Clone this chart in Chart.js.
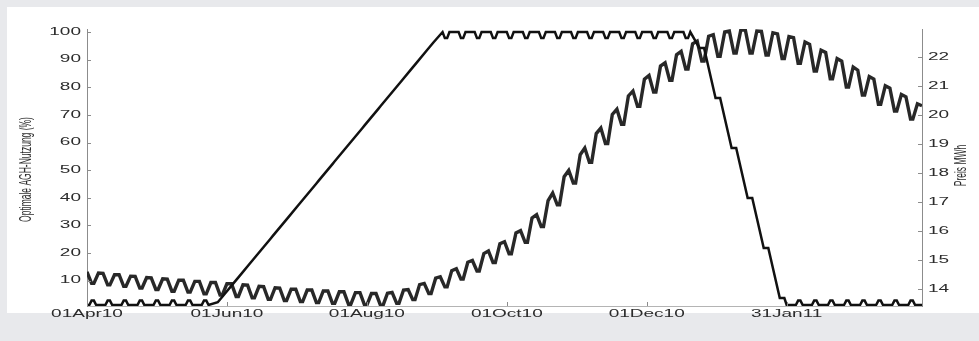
<!DOCTYPE html>
<html>
<head>
<meta charset="utf-8">
<script src="https://cdn.jsdelivr.net/npm/chart.js@4.4.1/dist/chart.umd.min.js"></script>
<style>
  html, body { margin: 0; padding: 0; background: #e8e9ec; }
  #frame { position: relative; width: 979px; height: 341px; overflow: hidden; }
  #panel { position: absolute; left: 7px; top: 7px; right: 0; height: 306px; background: #ffffff; }
  #wrap { position: absolute; left: 0; top: 0; width: 979px; height: 341px; }
</style>
</head>
<body>
<div id="frame">
  <div id="panel"></div>
  <div id="wrap"><canvas id="c"></canvas></div>
</div>
<script>
// Day 0 = Thu 01 Apr 2010, day 364 = Thu 31 Mar 2011.
// Week k: Thu = day 7k, Fri = 7k+1, Sat = 7k+2, Sun = 7k+3, Mon = 7k+4, Tue = 7k+5.
const tickDays = [0, 61, 122, 183, 244, 305];
const tickLabels = ['01Apr10', '01Jun10', '01Aug10', '01Oct10', '01Dec10', '31Jan11'];
const leftTicks = [10, 20, 30, 40, 50, 60, 70, 80, 90, 100];
const rightTicks = [14, 15, 16, 17, 18, 19, 20, 21, 22];

// Price (right axis): weekday level on the Thursday before and the Tuesday after
// each weekend, and the weekend low
const priceThu = [
  14.59, 14.54, 14.49, 14.43, 14.38, 14.34, 14.30, 14.26, 14.22, 14.18,
  14.13, 14.08, 14.03, 13.99, 13.96, 13.93, 13.90, 13.87, 13.84, 13.88,
  13.98, 14.19, 14.42, 14.70, 14.98, 15.31, 15.63, 16.01, 16.56, 17.31,
  18.09, 18.86, 19.55, 20.20, 20.83, 21.37, 21.80, 22.20, 22.55, 22.77,
  22.90, 22.93, 22.89, 22.80, 22.67, 22.44, 22.16, 21.86, 21.55, 21.24,
  20.93, 20.63
];
const priceWeekend = [
  14.19, 14.14, 14.09, 14.03, 13.98, 13.92, 13.89, 13.83, 13.79, 13.74,
  13.69, 13.64, 13.60, 13.56, 13.53, 13.50, 13.47, 13.44, 13.42, 13.50,
  13.63, 13.84, 14.07, 14.34, 14.62, 14.91, 15.21, 15.61, 16.15, 16.90,
  17.65, 18.37, 19.02, 19.68, 20.30, 20.79, 21.20, 21.59, 21.86, 22.03,
  22.14, 22.14, 22.07, 21.95, 21.79, 21.52, 21.25, 20.97, 20.69, 20.37,
  20.14, 19.86
];
const priceTue = [
  14.55, 14.49, 14.44, 14.39, 14.35, 14.30, 14.26, 14.22, 14.18, 14.14,
  14.09, 14.04, 13.99, 13.96, 13.93, 13.90, 13.87, 13.84, 13.85, 13.96,
  14.15, 14.37, 14.63, 14.92, 15.22, 15.56, 15.93, 16.45, 17.05, 17.87,
  18.63, 19.36, 20.02, 20.66, 21.24, 21.69, 22.08, 22.46, 22.72, 22.87,
  22.93, 22.90, 22.84, 22.71, 22.52, 22.24, 21.95, 21.66, 21.33, 21.01,
  20.71, 20.39
];
const priceEnd = 20.32;

// Optimal usage in % (left axis), Fri / Sat / Sun / Mon of each week
const usageStart = 1.2;
const usageFri = [
  1.2, 1.2, 1.2, 1.2, 1.2, 1.2, 1.2, 1.2,
  2.2, 9.2, 16.2, 23.2, 30.2, 37.2, 44.2, 51.2, 58.2, 65.2, 72.2, 79.2, 86.2, 93.2,
  100, 100, 100, 100, 100, 100, 100, 100, 100, 100, 100, 100, 100, 100, 100, 100,
  94.2, 76.1, 58.0, 39.9, 21.8, 3.7,
  1.2, 1.2, 1.2, 1.2, 1.2, 1.2, 1.2, 1.2
];
const usageSat = [
  2.8, 2.8, 2.8, 2.8, 2.8, 2.8, 2.8, 2.8,
  3.2, 10.2, 17.2, 24.2, 31.2, 38.2, 45.2, 52.2, 59.2, 66.2, 73.2, 80.2, 87.2, 94.2,
  97.8, 97.8, 97.8, 97.8, 97.8, 97.8, 97.8, 97.8, 97.8, 97.8, 97.8, 97.8, 97.8, 97.8, 97.8, 97.8,
  94.2, 76.1, 58.0, 39.9, 21.8, 3.7,
  2.8, 2.8, 2.8, 2.8, 2.8, 2.8, 2.8, 2.8
];
const usageSun = [
  2.8, 2.8, 2.8, 2.8, 2.8, 2.8, 2.8, 2.8,
  4.2, 11.2, 18.2, 25.2, 32.2, 39.2, 46.2, 53.2, 60.2, 67.2, 74.2, 81.2, 88.2, 95.2,
  97.8, 97.8, 97.8, 97.8, 97.8, 97.8, 97.8, 97.8, 97.8, 97.8, 97.8, 97.8, 97.8, 97.8, 97.8, 97.8,
  94.2, 76.1, 58.0, 39.9, 21.8, 3.7,
  2.8, 2.8, 2.8, 2.8, 2.8, 2.8, 2.8, 2.8
];
const usageMon = [
  1.2, 1.2, 1.2, 1.2, 1.2, 1.2, 1.2, 1.2,
  5.2, 12.2, 19.2, 26.2, 33.2, 40.2, 47.2, 54.2, 61.2, 68.2, 75.2, 82.2, 89.2, 96.2,
  100, 100, 100, 100, 100, 100, 100, 100, 100, 100, 100, 100, 100, 100, 100, 100,
  90.6, 72.5, 54.4, 36.3, 18.2, 1.2,
  1.2, 1.2, 1.2, 1.2, 1.2, 1.2, 1.2, 1.2
];
const usageEnd = 1.2;

const leftTitle = 'Optimale AGH-Nutzung (%)';
const rightTitle = 'Preis MWh';

function pricePoints() {
  const pts = [];
  for (let k = 0; k < priceThu.length; k++) {
    const thu = 7 * k;
    pts.push({ x: thu, y: priceThu[k] });
    pts.push({ x: thu + 2, y: priceWeekend[k] });
    pts.push({ x: thu + 3, y: priceWeekend[k] });
    pts.push({ x: thu + 5, y: priceTue[k] });
  }
  pts.push({ x: 364, y: priceEnd });
  return pts;
}

function usagePoints() {
  const pts = [{ x: 0, y: usageStart }];
  for (let k = 0; k < usageFri.length; k++) {
    const fri = 7 * k + 1;
    pts.push({ x: fri, y: usageFri[k] });
    pts.push({ x: fri + 1, y: usageSat[k] });
    pts.push({ x: fri + 2, y: usageSun[k] });
    pts.push({ x: fri + 3, y: usageMon[k] });
  }
  pts.push({ x: 364, y: usageEnd });
  return pts;
}

const TEXT = '#2c2c2c';
const FONT = 'Liberation Sans, Arial, sans-serif';
const STRETCH = 1.9; // wide lettering of the figure

// Draw every text run horizontally widened around its anchor point
const wideText = {
  id: 'wideText',
  beforeInit(chart) {
    const ctx = chart.ctx;
    const base = CanvasRenderingContext2D.prototype.fillText;
    ctx.fillText = function (text, x, y, maxWidth) {
      const m = this.getTransform();
      const p = m.transformPoint(new DOMPoint(x, y));
      this.save();
      this.setTransform(new DOMMatrix().translate(p.x, p.y).scale(STRETCH, 1).translate(-p.x, -p.y).multiply(m));
      if (maxWidth === undefined) base.call(this, text, x, y);
      else base.call(this, text, x, y, maxWidth);
      this.restore();
    };
  }
};

// Short tick marks pointing into the plot area, plus the two axis titles
const axisDecor = {
  id: 'axisDecor',
  afterDraw(chart) {
    const { ctx, chartArea: a, scales } = chart;
    ctx.save();
    ctx.strokeStyle = '#8c8c8c';
    ctx.lineWidth = 1;
    ctx.beginPath();
    leftTicks.forEach(v => {
      const y = Math.round(scales.y.getPixelForValue(v)) + 0.5;
      ctx.moveTo(a.left, y); ctx.lineTo(a.left + 4, y);
    });
    rightTicks.forEach(v => {
      const y = Math.round(scales.y2.getPixelForValue(v)) + 0.5;
      ctx.moveTo(a.right, y); ctx.lineTo(a.right - 4, y);
    });
    tickDays.forEach(v => {
      const x = Math.round(scales.x.getPixelForValue(v)) + 0.5;
      ctx.moveTo(x, a.bottom); ctx.lineTo(x, a.bottom - 4);
    });
    ctx.stroke();

    ctx.fillStyle = TEXT;
    ctx.font = '8.5px ' + FONT;
    ctx.textAlign = 'center';
    ctx.textBaseline = 'middle';
    const midY = (a.top + a.bottom) / 2;
    ctx.save();
    ctx.translate(a.left - 60, midY + 2);
    ctx.rotate(-Math.PI / 2);
    ctx.fillText(leftTitle, 0, 0);
    ctx.restore();
    ctx.save();
    ctx.translate(a.right + 40, midY - 2);
    ctx.rotate(-Math.PI / 2);
    ctx.fillText(rightTitle, 0, 0);
    ctx.restore();
    ctx.restore();
  }
};

const tickFont = { family: FONT, size: 10 };

new Chart(document.getElementById('c'), {
  type: 'line',
  data: {
    datasets: [
      {
        label: rightTitle,
        data: pricePoints(),
        yAxisID: 'y2',
        borderColor: '#282828',
        borderWidth: 3.4,
        pointRadius: 0,
        tension: 0,
        order: 2
      },
      {
        label: leftTitle,
        data: usagePoints(),
        yAxisID: 'y',
        borderColor: '#111111',
        borderWidth: 2.5,
        pointRadius: 0,
        tension: 0,
        order: 1
      }
    ]
  },
  options: {
    animation: false,
    responsive: true,
    maintainAspectRatio: false,
    layout: { padding: { top: 29, left: 0, right: 0, bottom: 0 } },
    plugins: { legend: { display: false }, tooltip: { enabled: false } },
    scales: {
      x: {
        type: 'linear',
        min: 0,
        max: 364,
        afterBuildTicks: s => { s.ticks = tickDays.map(v => ({ value: v })); },
        afterFit: s => { s.height = 35; },
        ticks: {
          autoSkip: false, maxRotation: 0, padding: 2,
          color: TEXT, font: tickFont,
          callback: v => tickLabels[tickDays.indexOf(v)]
        },
        grid: { display: false, drawTicks: false },
        border: { display: true, color: '#b4b4b4', width: 1 }
      },
      y: {
        position: 'left',
        min: 0.83,
        max: 101.1,
        afterBuildTicks: s => { s.ticks = leftTicks.map(v => ({ value: v })); },
        afterFit: s => { s.width = 87; },
        ticks: { padding: 6, color: TEXT, font: tickFont },
        grid: { display: false, drawTicks: false },
        border: { display: true, color: '#8c8c8c', width: 1 }
      },
      y2: {
        position: 'right',
        min: 13.41,
        max: 22.97,
        afterBuildTicks: s => { s.ticks = rightTicks.map(v => ({ value: v })); },
        afterFit: s => { s.width = 57; },
        ticks: { padding: 6, color: TEXT, font: tickFont },
        grid: { display: false, drawTicks: false },
        border: { display: true, color: '#8c8c8c', width: 1 }
      }
    }
  },
  plugins: [wideText, axisDecor]
});
</script>
</body>
</html>
